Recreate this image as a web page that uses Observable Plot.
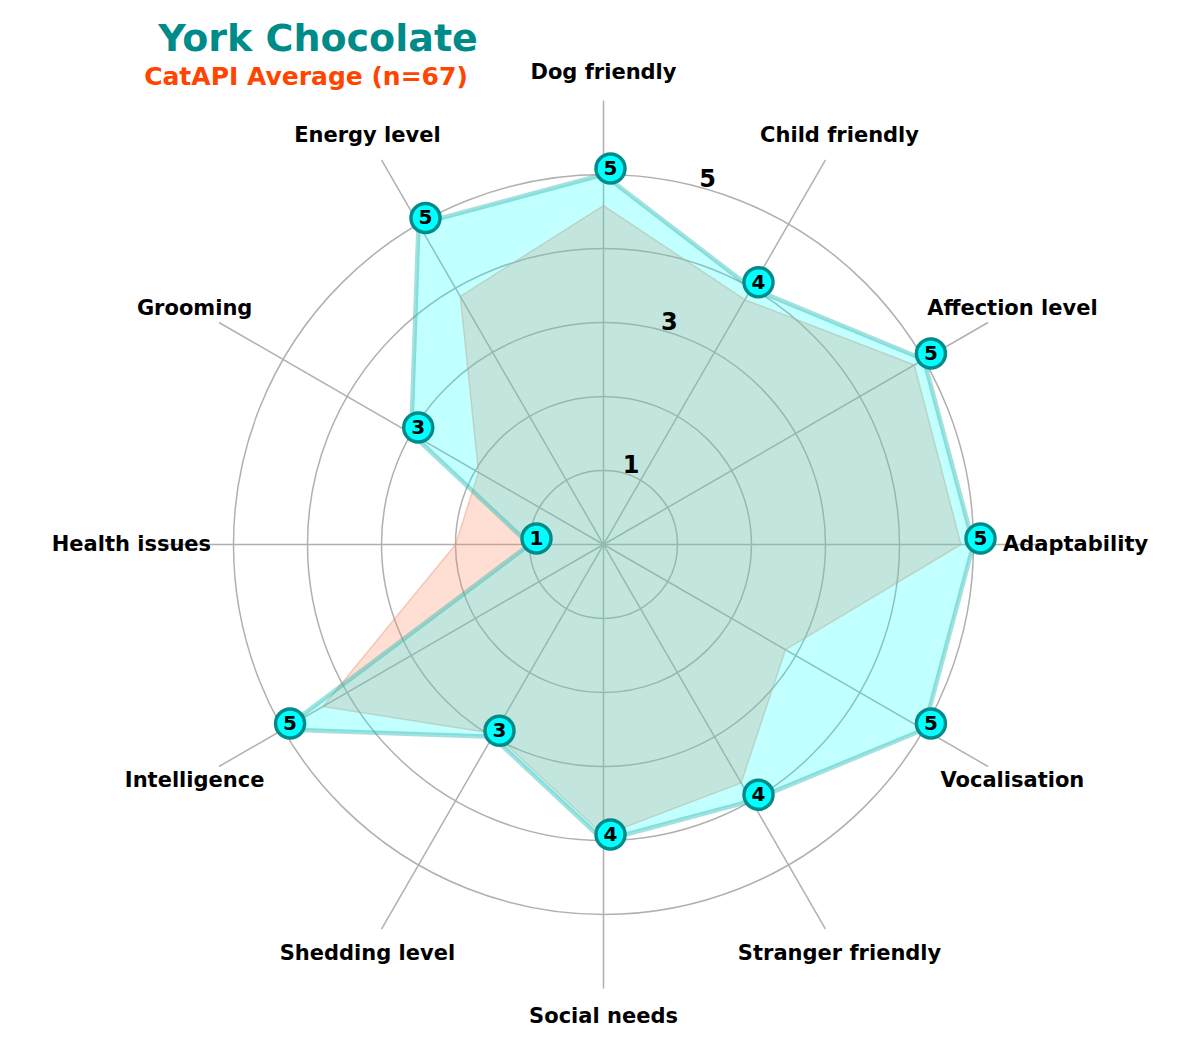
<!DOCTYPE html>
<html>
<head>
<meta charset="utf-8">
<script src="https://cdn.jsdelivr.net/npm/d3@7"></script>
<script src="https://cdn.jsdelivr.net/npm/@observablehq/plot@0.6"></script>
<style>
  html, body { margin: 0; padding: 0; background: #fff; }
  #wrap { position: relative; width: 1200px; height: 1050px; font-family: "DejaVu Sans", sans-serif; }
  .title { position: absolute; width: 400px; text-align: center; font-weight: bold; white-space: nowrap; line-height: 1; }
  #t1 { top: 19px; left: 118px; font-size: 38px; color: #008B8B; }
  #t2 { top: 64px; left: 106px; font-size: 25px; color: #FF4500; }
</style>
</head>
<body>
<div id="wrap">
  <div id="chart"></div>
  <div class="title" id="t1">York Chocolate</div>
  <div class="title" id="t2">CatAPI Average (n=67)</div>
</div>
<script>
// ---- data ----
const categories = ["Adaptability", "Affection level", "Child friendly", "Dog friendly", "Energy level", "Grooming", "Health issues", "Intelligence", "Shedding level", "Social needs", "Stranger friendly", "Vocalisation"];
const breedValues = [5, 5, 4, 5, 5, 3, 1, 5, 3, 4, 4, 5];
const averageValues = [4.83, 4.85, 3.82, 4.58, 3.87, 1.95, 2.0, 4.38, 2.95, 3.93, 3.72, 2.84];
const gridLevels = [1, 2, 3, 4, 5];
const radialTickLabels = [1, 3, 5];
const spokeLength = 6;
const labelRadius = 6.38;
const radialLabelAngleDeg = 75;

// ---- layout ----
const W = 1200, H = 1050, CX = 603, CY = 544, UNIT = 74;
const n = categories.length;
const angleOf = i => i * 2 * Math.PI / n;

const rows = categories.map((c, i) => ({
  category: c,
  angle: angleOf(i),
  breed: breedValues[i],
  avg: averageValues[i]
}));

const ra = radialLabelAngleDeg * Math.PI / 180;

const chart = Plot.plot({
  width: W,
  height: H,
  margin: 0,
  x: {domain: [-CX / UNIT, (W - CX) / UNIT], axis: null},
  y: {domain: [-(H - CY) / UNIT, CY / UNIT], axis: null},
  r: {type: "linear", domain: [0, 1], range: [0, UNIT]},
  style: {fontFamily: "DejaVu Sans", background: "white"},
  marks: [
    // grid circles
    Plot.dot(gridLevels, {x: () => 0, y: () => 0, r: d => d, fill: "none", stroke: "#b0b0b0", strokeWidth: 1.5}),
    // spokes
    Plot.link(rows, {
      x1: () => 0, y1: () => 0,
      x2: d => spokeLength * Math.cos(d.angle),
      y2: d => spokeLength * Math.sin(d.angle),
      stroke: "#b0b0b0", strokeWidth: 1.5
    }),
    // average polygon
    Plot.line(rows, {
      x: d => d.avg * Math.cos(d.angle),
      y: d => d.avg * Math.sin(d.angle),
      curve: "linear-closed",
      fill: "#FF7F50", fillOpacity: 0.25,
      stroke: "#E9967A", strokeOpacity: 0.45, strokeWidth: 1.5
    }),
    // breed polygon
    Plot.line(rows, {
      x: d => d.breed * Math.cos(d.angle),
      y: d => d.breed * Math.sin(d.angle),
      curve: "linear-closed",
      fill: "#00FFFF", fillOpacity: 0.24,
      stroke: "#20B2AA", strokeOpacity: 0.4, strokeWidth: 4.5
    }),
    // radial tick labels
    Plot.text(radialTickLabels, {
      x: d => d * Math.cos(ra),
      y: d => d * Math.sin(ra),
      text: d => String(d),
      textAnchor: "start",
      lineAnchor: "bottom",
      fontSize: 24, fontWeight: "bold", fill: "black"
    }),
    // markers
    Plot.dot(rows, {
      x: d => d.breed * Math.cos(d.angle),
      y: d => d.breed * Math.sin(d.angle),
      dx: 7, dy: -6,
      r: 14.5,
      fill: "#00FFFF", stroke: "#008B8B", strokeWidth: 3.5
    }),
    Plot.text(rows, {
      x: d => d.breed * Math.cos(d.angle),
      y: d => d.breed * Math.sin(d.angle),
      dx: 7, dy: -6,
      text: d => String(d.breed),
      fontSize: 20, fontWeight: "bold", fill: "black"
    }),
    // axis labels
    Plot.text(rows, {
      x: d => labelRadius * Math.cos(d.angle),
      y: d => labelRadius * Math.sin(d.angle),
      text: "category",
      fontSize: 21, fontWeight: "bold", fill: "black"
    })
  ]
});
document.getElementById("chart").appendChild(chart);
</script>
</body>
</html>
